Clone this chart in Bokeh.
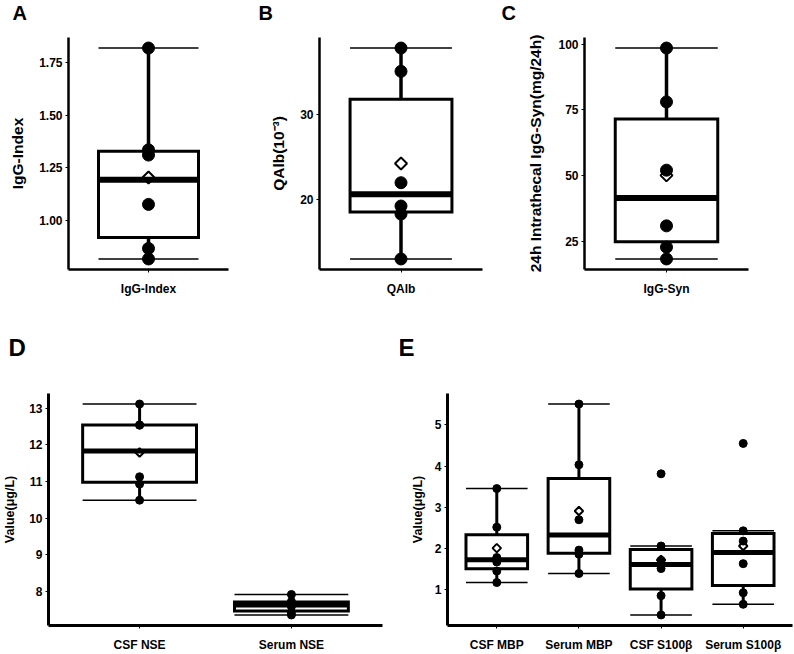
import numpy as np
from bokeh.plotting import figure
from bokeh.layouts import row, column
from bokeh.models import Range1d, FixedTicker, NumeralTickFormatter
from bokeh.embed import file_html
from bokeh.resources import INLINE

# ---- data (per-patient values) ----
igg_index = [1.82, 1.335, 1.31, 1.075, 0.865, 0.815]
qalb = [37.85, 35.1, 21.95, 19.2, 18.25, 12.95]
igg_syn = [98.5, 78.0, 52.0, 30.8, 22.7, 18.2]

csf_nse = [13.12, 12.55, 12.54, 11.13, 10.93, 10.49]
serum_nse = [7.91, 7.72, 7.66, 7.58, 7.42, 7.35]

csf_mbp = [3.45, 2.51, 1.77, 1.66, 1.44, 1.16]
serum_mbp = [5.51, 4.03, 2.69, 1.95, 1.85, 1.38]
csf_s100b = [3.81, 2.05, 1.70, 1.50, 0.84, 0.37]
serum_s100b = [4.55, 2.42, 2.17, 1.62, 0.91, 0.63]

labels_a = ["IgG-Index"]
labels_b = ["QAlb"]
labels_c = ["IgG-Syn"]
labels_d = ["CSF NSE", "Serum NSE"]
labels_e = ["CSF MBP", "Serum MBP", "CSF S100\u03b2", "Serum S100\u03b2"]

ticks_a = [1.00, 1.25, 1.50, 1.75]
ticks_b = [20, 30]
ticks_c = [25, 50, 75, 100]
ticks_d = [8, 9, 10, 11, 12, 13]
ticks_e = [1, 2, 3, 4, 5]

FONT = "Liberation Sans"


def box_stats(vals):
    v = np.asarray(vals, dtype=float)
    q1, med, q3 = np.percentile(v, [25, 50, 75])
    iqr = q3 - q1
    lo = v[v >= q1 - 1.5 * iqr].min()
    hi = v[v <= q3 + 1.5 * iqr].max()
    return q1, med, q3, lo, hi, v.mean()


def panel(groups, labels, ticks, fmt, ylabel, letter, width, height,
          borders, st):
    left, right, top, bottom = borders
    allv = np.concatenate([np.asarray(g, float) for g in groups])
    span = allv.max() - allv.min()
    ymin, ymax = allv.min() - 0.05 * span, allv.max() + 0.05 * span
    n = len(groups)
    p = figure(width=width, height=height, output_backend="svg",
               toolbar_location=None,
               x_range=Range1d(0.4, n + 0.6), y_range=Range1d(ymin, ymax),
               min_border_left=left, min_border_right=right,
               min_border_top=top, min_border_bottom=bottom,
               margin=(-st["lift"], 0, 0, 0))
    p.outline_line_color = None
    p.xgrid.visible = False
    p.ygrid.visible = False
    p.background_fill_color = "white"
    p.border_fill_color = None

    # panel letter as a left-aligned title pulled into the left border
    p.title.text = letter
    p.title.align = "left"
    p.title.offset = st["loff"]
    p.title.standoff = st["lstand"]
    p.title.text_font = FONT
    p.title.text_font_style = "bold"
    p.title.text_font_size = st["lsize"]
    p.title.text_color = "black"

    hw = 0.375
    for i, g in enumerate(groups):
        x = i + 1
        q1, med, q3, lo, hi, mean = box_stats(g)
        # mean marker sits beneath the box lines and points
        p.scatter([x], [mean], marker="square", angle=np.pi / 4,
                  size=st["dsize"], fill_color="white", line_color="black",
                  line_width=st["dline"])
        # whiskers
        p.segment([x, x], [q3, q1], [x, x], [hi, lo], line_color="black",
                  line_width=st["whisk"])
        # caps
        p.segment([x - hw, x - hw], [hi, lo], [x + hw, x + hw], [hi, lo],
                  line_color="black", line_width=st["cap"])
        # box
        p.quad(left=[x - hw], right=[x + hw], bottom=[q1], top=[q3],
               fill_color=None, line_color="black", line_width=st["box"],
               line_join="miter")
        # median
        p.segment([x - hw], [med], [x + hw], [med], line_color="black",
                  line_width=st["med"])
        # individual values
        p.scatter([x] * len(g), g, marker="circle", size=st["psize"],
                  fill_color="black", line_color="black")

    for ax in (p.xaxis[0], p.yaxis[0]):
        ax.axis_line_width = st["axis"]
        ax.axis_line_color = "black"
        ax.major_tick_line_color = "black"
        ax.major_tick_line_width = 1
        ax.major_tick_in = 0
        ax.major_tick_out = 3
        ax.minor_tick_line_color = None
        ax.major_label_text_font = FONT
        ax.major_label_text_font_style = "bold"
        ax.major_label_text_font_size = "12px"
        ax.major_label_text_color = "black"

    p.xaxis.ticker = FixedTicker(ticks=list(range(1, n + 1)))
    p.xaxis.major_label_overrides = {i + 1: lab for i, lab in enumerate(labels)}
    p.xaxis.major_label_standoff = 9

    p.yaxis.ticker = FixedTicker(ticks=ticks)
    p.yaxis.formatter = NumeralTickFormatter(format=fmt)
    p.yaxis.major_label_standoff = 3
    p.yaxis.axis_label = ylabel
    p.yaxis.axis_label_text_font = FONT
    p.yaxis.axis_label_text_font_style = "bold"
    p.yaxis.axis_label_text_font_size = st["ylab"]
    p.yaxis.axis_label_text_color = "black"
    p.yaxis.axis_label_standoff = st["ystand"]
    return p


# top row: 232 px plot area starting 37 px from the top
top_style = dict(axis=2.5, box=3, med=6, whisk=3.5, cap=1.5, psize=12,
                 dsize=8.5, dline=2, ylab="15.5px", lsize="20px", lstand=28,
                 lift=17)
# bottom row: 233 px plot area starting 75 px below the row top
bot_style = dict(axis=3, box=3, med=5, whisk=3, cap=1.5, psize=8,
                 dsize=6, dline=2, ylab="12.5px", lsize="24px", lstand=66,
                 lift=22)

TOP_B = 37 + top_style["lift"]
BOT_B = 75 + bot_style["lift"]
TOP_H = TOP_B + 232 + 49
BOT_H = BOT_B + 233 + 28

pa = panel([igg_index], labels_a, ticks_a, "0.00", "IgG-Index", "A",
           250, TOP_H, (68, 22, TOP_B, 49),
           dict(top_style, ystand=10, loff=-56))
pb = panel([qalb], labels_b, ticks_b, "0", "QAlb(10\u207b\u00b3)", "B",
           245, TOP_H, (69, 13, TOP_B, 49),
           dict(top_style, ystand=10, loff=-61))
pc = panel([igg_syn], labels_c, ticks_c, "0", "24h Intrathecal IgG-Syn(mg/24h)",
           "C", 299, TOP_H, (89, 46, TOP_B, 49),
           dict(top_style, ystand=11, loff=-83))
pd = panel([csf_nse, serum_nse], labels_d, ticks_d, "0", "Value(\u03bcg/L)", "D",
           400, BOT_H, (42, 18, BOT_B, 28),
           dict(bot_style, ystand=9, loff=-40))
pe = panel([csf_mbp, serum_mbp, csf_s100b, serum_s100b], labels_e, ticks_e,
           "0", "Value(\u03bcg/L)", "E", 394, BOT_H, (47, 2, BOT_B, 28),
           dict(bot_style, ystand=7, loff=-49))

layout = column(row(pa, pb, pc, spacing=0), row(pd, pe, spacing=0), spacing=0)

open("out.html", "w").write(file_html(layout, INLINE))
